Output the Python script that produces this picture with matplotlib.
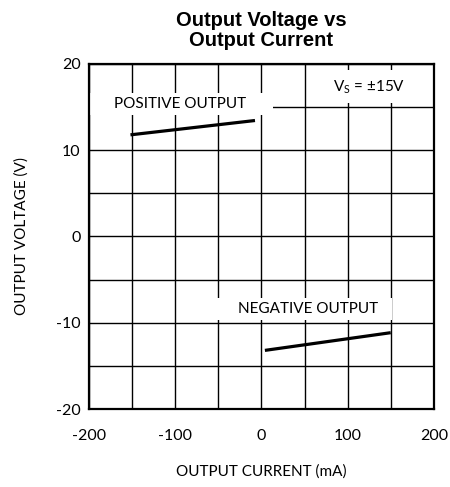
import matplotlib
matplotlib.use('Agg')
from matplotlib import pyplot as plt
from matplotlib.patches import Rectangle

plt.rcParams['font.family'] = ['Lato', 'DejaVu Sans']
plt.rcParams['axes.unicode_minus'] = False

# data
pos_current = [-152, -7.5]
pos_voltage = [11.77, 13.43]
neg_current = [4, 150]
neg_voltage = [-13.2, -11.15]
xticks = [-200, -100, 0, 100, 200]
yticks = [-20, -10, 0, 10, 20]

fig = plt.figure(figsize=(4.5, 4.87), dpi=100)
ax = fig.add_axes([0.198, 0.160, 0.766, 0.709])

ax.set_xlim(-200, 200)
ax.set_ylim(-20, 20)
ax.set_xticks(xticks)
ax.set_yticks(yticks)
ax.set_xticks(range(-150, 200, 100), minor=True)
ax.set_yticks(range(-15, 20, 10), minor=True)
ax.set_axisbelow(True)
ax.grid(True, which='both', color='black', linewidth=1.0)
ax.tick_params(which='both', length=0, labelsize=11.5)
ax.tick_params(axis='x', pad=14)
ax.tick_params(axis='y', pad=6)
for s in ax.spines.values():
    s.set_linewidth(1.6)
    s.set_zorder(5)

# white label boxes that break the grid
for (x0, y0, w, h) in [(-200, 14.1, 213, 2.5),
                       (68, 15.5, 132, 3.8),
                       (-55, -9.7, 207, 2.6)]:
    ax.add_patch(Rectangle((x0, y0), w, h, facecolor='white',
                           edgecolor='none', zorder=2))

ax.plot(pos_current, pos_voltage, color='black', linewidth=2.3,
        solid_capstyle='butt', zorder=4)
ax.plot(neg_current, neg_voltage, color='black', linewidth=2.3,
        solid_capstyle='butt', zorder=4)

ax.text(-94, 15.3, 'POSITIVE OUTPUT', fontsize=11, va='center',
        ha='center', zorder=3)
ax.text(54, -8.45, 'NEGATIVE OUTPUT', fontsize=11, va='center',
        ha='center', zorder=3)
ax.text(125, 17.3, r'V$_\mathregular{S}$ = ±15V', fontsize=11,
        va='center', ha='center', zorder=3)

ax.set_xlabel('OUTPUT CURRENT (mA)', fontsize=11, labelpad=16)
ax.set_ylabel('OUTPUT VOLTAGE (V)', fontsize=11, labelpad=20)
ax.set_title('Output Voltage vs\nOutput Current', fontsize=14.5,
             fontweight='bold', family=['Liberation Sans', 'DejaVu Sans'],
             linespacing=1.05, pad=13)

fig.savefig('out.png', dpi=100)
